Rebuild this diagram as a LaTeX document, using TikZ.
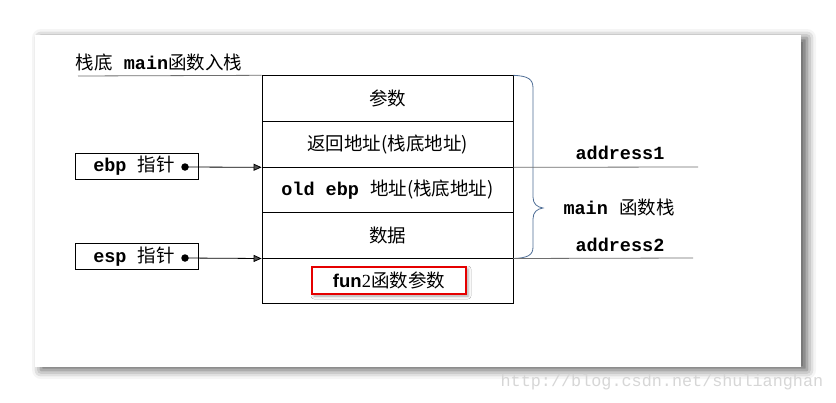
\documentclass[tikz,border=0pt]{standalone}
\usepackage{fontspec}
\setmainfont{Liberation Serif}
\setmonofont{Liberation Mono}
\newfontfamily\zhfont{Noto Sans CJK SC}
\newfontfamily\arialfont{Liberation Sans}
\usetikzlibrary{arrows.meta}
\usetikzlibrary{shadows.blur}

\definecolor{bracecolor}{RGB}{79,110,150}
\definecolor{linegray}{RGB}{110,110,110}

\newcommand{\zh}[1]{{\zhfont #1}}
\newcommand{\cw}[1]{{\ttfamily\bfseries #1}}

\begin{document}
\begin{tikzpicture}[x=1pt,y=-1pt, line width=0.8pt, every node/.style={font=\fontsize{18.5}{20}\selectfont},
    cell/.style={draw, minimum width=251pt, minimum height=45.6pt, inner sep=0pt},
    ptrbox/.style={draw, minimum width=123pt, minimum height=26pt, inner sep=0pt},
    ptrdot/.style={circle, fill, inner sep=0pt, minimum size=7.5pt},
    ptrarrow/.style={-{Triangle[length=8pt,width=7pt]}},
    addrline/.style={draw=linegray}]

    \useasboundingbox (0,0) rectangle (836,402);

    %===========================
    % Panel
    %===========================
    \fill[white, blur shadow={shadow xshift=6pt, shadow yshift=-3pt, shadow blur radius=9pt, shadow opacity=65}] (35,35) rectangle (801,367);

    \node[text=black!16, font=\fontsize{16.8}{18}\selectfont\ttfamily, anchor=east] (mark) at (827,382) {http://blog.csdn.net/shulianghan};

    %===========================
    % Stack
    %===========================
    \node[cell] (param) at (387.5,98.5) {\zh{参数}};
    \node[cell] (ret) at (387.5,144.1) {\zh{返回地址(栈底地址)}};
    \node[cell] (oldebp) at (387.5,189.7) {\cw{old ebp }\zh{地址(栈底地址)}};
    \node[cell] (data) at (387.5,235.3) {\zh{数据}};
    \node[cell] (fun) at (387.5,280.9) {};
    \node[draw=red!90!black, line width=1.8pt, minimum width=154pt, minimum height=27pt, inner sep=0pt, fill=white,
        blur shadow={shadow xshift=2pt, shadow yshift=-2pt, shadow blur radius=3pt, shadow opacity=35}] (funbox) at (389,280.5)
        {{\arialfont\bfseries fun}2\zh{函数参数}};

    % bottom of stack
    \node[anchor=west] (bottomlbl) at (72,62) {\zh{栈底}\cw{ main}\zh{函数入栈}};
    \coordinate (topstart) at (78,76);
    \draw[addrline] (topstart) -- (param.north west);

    %===========================
    % Pointers
    %===========================
    \node[ptrbox] (ebpbox) at (136.5,166) {};
    \node (ebptxt) at (134,166) {\cw{ebp }\zh{指针}};
    \node[ptrdot] (ebpdot) at (185,167) {};
    \draw[ptrarrow] (ebpdot.center) -- (ret.south west);

    \node[ptrbox] (espbox) at (136.5,256.5) {};
    \node (esptxt) at (134,256.5) {\cw{esp }\zh{指针}};
    \node[ptrdot] (espdot) at (185,258) {};
    \draw[ptrarrow] (espdot.center) -- (data.south west);

    %===========================
    % Main frame
    %===========================
    \draw[bracecolor] (param.north east) .. controls (528,76) and (533,79) .. (533,88)
        -- (533,197) .. controls (533,204) and (537,207) .. (543,208)
        .. controls (537,209) and (533,212) .. (533,219)
        -- (533,247) .. controls (533,255) and (528,258) .. (data.south east);

    \coordinate (addr1end) at (698,167);
    \coordinate (addr2end) at (693,258);
    \draw[addrline] (ret.south east) -- (addr1end);
    \draw[addrline] (data.south east) -- (addr2end);

    \node (addr1) at (620,153) {\cw{address1}};
    \node (mainlbl) at (619,207) {\cw{main }\zh{函数栈}};
    \node (addr2) at (620,245) {\cw{address2}};
\end{tikzpicture}
\end{document}
